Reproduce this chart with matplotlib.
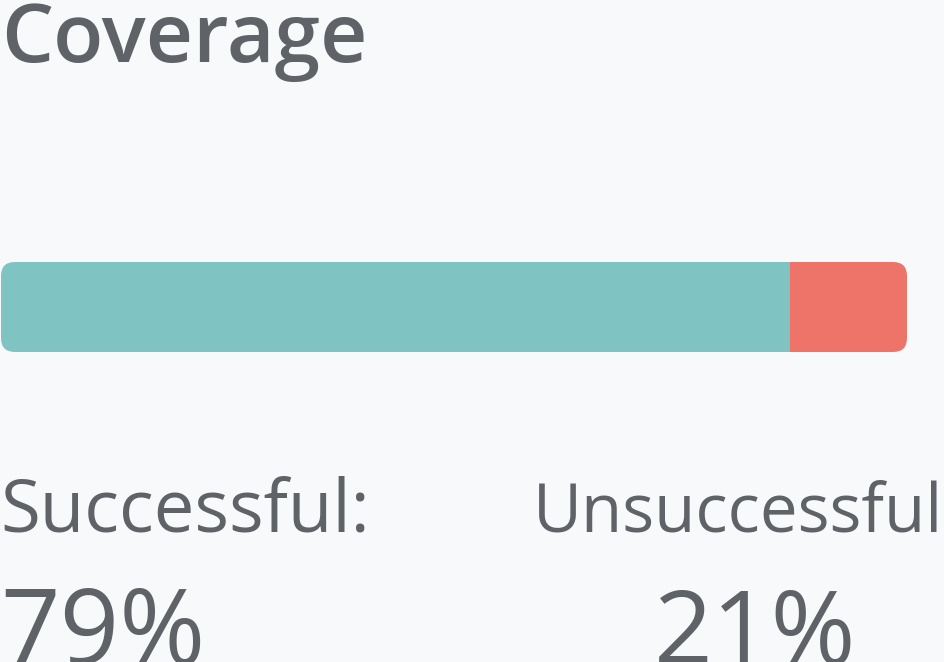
import matplotlib
matplotlib.use("Agg")
import matplotlib.pyplot as plt
from matplotlib.patches import FancyBboxPatch

# ---- data ----
title = "Coverage"
categories = ["Successful:", "Unsuccessful"]
percent_values = [79, 21]
# bar segment lengths as drawn in the reference (share of the bar)
bar_segments = [87.1, 12.9]
colors = ["#7fc3c3", "#ee7368"]

W, H = 945, 662
DPI = 100
bg = "#f8f9fa"
text_color = "#5f6368"
plt.rcParams['font.family'] = ['Open Sans', 'DejaVu Sans']

fig = plt.figure(figsize=(W / DPI, H / DPI), dpi=DPI, facecolor=bg)

def fx(px):
    return px / W

def fy(py):
    return 1 - py / H

# bar axes
bar_left, bar_right, bar_top, bar_bot = 1, 907, 262, 352
ax = fig.add_axes([fx(bar_left), fy(bar_bot), fx(bar_right - bar_left), (bar_bot - bar_top) / H])
ax.set_facecolor("none")
ax.set_xlim(0, sum(bar_segments))
ax.set_ylim(-0.5, 0.5)
ax.axis("off")

# rounded clip outline in inches (figure coordinates)
clip = FancyBboxPatch((bar_left / DPI, (H - bar_bot) / DPI),
                      (bar_right - bar_left) / DPI, (bar_bot - bar_top) / DPI,
                      boxstyle="round,pad=0,rounding_size=0.14",
                      transform=fig.dpi_scale_trans, facecolor="none", edgecolor="none")
fig.add_artist(clip)

left = 0
for seg, c in zip(bar_segments, colors):
    b = ax.barh([0], [seg], left=left, height=1.0, color=c, edgecolor="none")
    for r in b:
        r.set_clip_path(clip)
    left += seg

renderer = fig.canvas.get_renderer()

def fit_text(x, y, s, size, target_w, **kw):
    t = fig.text(x, y, s, fontsize=size, color=text_color, va="baseline", **kw)
    w = t.get_window_extent(renderer).width
    t.set_fontsize(size * target_w / w)
    return t

fit_text(fx(1), fy(62), title, 43, 366, fontweight="semibold", ha="left")
fit_text(fx(0), fy(532), categories[0], 52, 370, ha="left")
fit_text(fx(533), fy(532), categories[1], 52, 410, ha="left")

fig.text(fx(0), fy(664), f"{percent_values[0]}%", fontsize=75, color=text_color,
         ha="left", va="baseline")
fig.text(fx(755), fy(664), f"{percent_values[1]}%", fontsize=74, color=text_color,
         ha="center", va="baseline")

fig.savefig("out.png", dpi=DPI, facecolor=bg)
